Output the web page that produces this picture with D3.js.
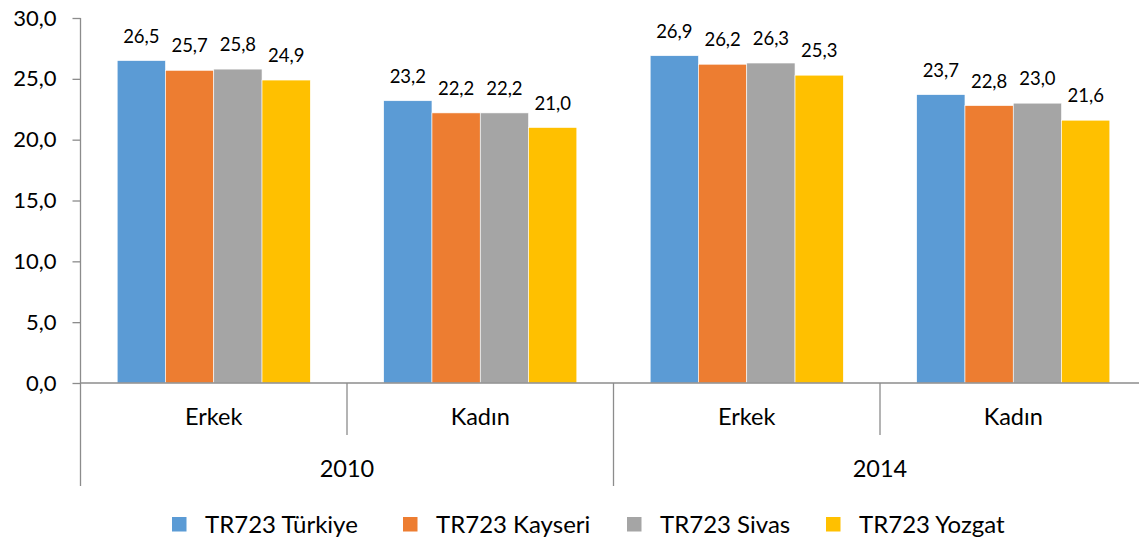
<!DOCTYPE html>
<html>
<head>
<meta charset="utf-8">
<script src="https://cdn.jsdelivr.net/npm/d3@7"></script>
<style>
  html, body { margin: 0; padding: 0; background: #fff; }
  svg { display: block; font-family: Lato, "Open Sans", sans-serif; }
</style>
</head>
<body>
<svg id="chart" width="1139" height="540"></svg>
<script>
// Years and sexes forming the two-level category axis
const years = ["2010", "2014"];
const sexes = ["Erkek", "Kadın"];
const seriesNames = ["TR723 Türkiye", "TR723 Kayseri", "TR723 Sivas", "TR723 Yozgat"];
const seriesColors = ["#5B9BD5", "#ED7D31", "#A5A5A5", "#FFC000"];

// Values per series, in order: 2010 Erkek, 2010 Kadın, 2014 Erkek, 2014 Kadın
const turkiye = [26.5, 23.2, 26.9, 23.7];
const kayseri = [25.7, 22.2, 26.2, 22.8];
const sivas   = [25.8, 22.2, 26.3, 23.0];
const yozgat  = [24.9, 21.0, 25.3, 21.6];

const yTicks = [0, 5, 10, 15, 20, 25, 30];

const seriesValues = [turkiye, kayseri, sivas, yozgat];
const groups = [];
years.forEach(yr => sexes.forEach(s => groups.push(yr + "|" + s)));

const fmt = v => v.toFixed(1).replace(".", ",");

const svg = d3.select("#chart");
const plotLeft = 80.5, plotRight = 1146.5, plotTop = 18, plotBottom = 383;
const axisColor = "#8c8c8c";

const y = d3.scaleLinear().domain([0, 30]).range([plotBottom, plotTop]);
const x0 = d3.scaleBand().domain(groups).range([plotLeft, plotRight]).paddingInner(0).paddingOuter(0);
const x1 = d3.scaleBand().domain(seriesNames).range([0, x0.bandwidth()]).paddingInner(0).paddingOuter(0.76);

// Bars with value labels
const g = svg.append("g");
groups.forEach((grp, gi) => {
  const gg = g.append("g").attr("transform", `translate(${x0(grp)},0)`);
  seriesNames.forEach((name, si) => {
    const v = seriesValues[si][gi];
    gg.append("rect")
      .attr("x", x1(name))
      .attr("y", y(v))
      .attr("width", x1.bandwidth())
      .attr("height", y(0) - y(v))
      .attr("fill", seriesColors[si])
      .attr("stroke", "#fff")
      .attr("stroke-width", 0.6);
    gg.append("text")
      .attr("x", x1(name) + x1.bandwidth() / 2)
      .attr("y", y(v) - 18)
      .attr("text-anchor", "middle")
      .attr("font-size", 18.5)
      .attr("fill", "#000")
      .text(fmt(v));
  });
});

// Y axis
const yAxis = d3.axisLeft(y).tickValues(yTicks).tickSize(8).tickPadding(16).tickFormat(fmt);
const ya = svg.append("g").attr("transform", `translate(${plotLeft},0)`).call(yAxis);
ya.select(".domain").remove();
ya.selectAll(".tick line").attr("stroke", axisColor).attr("stroke-width", 1.3);
ya.selectAll(".tick text").attr("font-size", 22).attr("fill", "#000").attr("font-family", "Lato, sans-serif");
svg.append("line").attr("x1", plotLeft).attr("x2", plotLeft).attr("y1", plotTop).attr("y2", 486)
  .attr("stroke", axisColor).attr("stroke-width", 1.3);

// Category axis baseline
svg.append("line").attr("x1", plotLeft).attr("x2", 1139).attr("y1", plotBottom).attr("y2", plotBottom)
  .attr("stroke", axisColor).attr("stroke-width", 1.3);

// Separators between sexes and between years
groups.forEach((grp, gi) => {
  if (gi === 0) return;
  const xx = x0(grp);
  const isYearBreak = gi % sexes.length === 0;
  svg.append("line").attr("x1", xx).attr("x2", xx).attr("y1", plotBottom).attr("y2", isYearBreak ? 486 : 435)
    .attr("stroke", axisColor).attr("stroke-width", 1.3);
});

// Sex labels
groups.forEach(grp => {
  svg.append("text")
    .attr("x", x0(grp) + x0.bandwidth() / 2)
    .attr("y", 425)
    .attr("text-anchor", "middle")
    .attr("font-size", 23.5)
    .text(grp.split("|")[1]);
});

// Year labels
years.forEach(yr => {
  const first = x0(yr + "|" + sexes[0]);
  const last = x0(yr + "|" + sexes[sexes.length - 1]) + x0.bandwidth();
  svg.append("text")
    .attr("x", (first + last) / 2)
    .attr("y", 477)
    .attr("text-anchor", "middle")
    .attr("font-size", 23.5)
    .text(yr);
});

// Legend
const legendX = [172, 403, 627, 826];
seriesNames.forEach((name, si) => {
  const lg = svg.append("g").attr("transform", `translate(${legendX[si]},517)`);
  lg.append("rect").attr("width", 14.5).attr("height", 14.5).attr("fill", seriesColors[si]);
  lg.append("text").attr("x", 33).attr("y", 15.5).attr("font-size", 24).text(name);
});
</script>
</body>
</html>
